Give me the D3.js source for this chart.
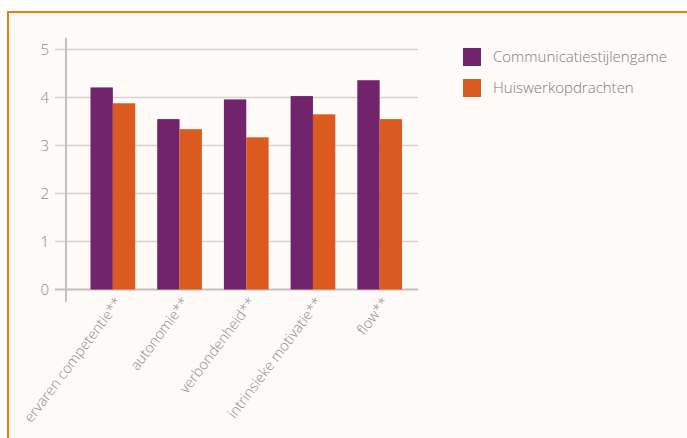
<!DOCTYPE html>
<html>
<head>
<meta charset="utf-8">
<script src="https://cdn.jsdelivr.net/npm/d3@7"></script>
<style>
  body { margin: 0; background: #ffffff; }
  svg { display: block; }
  text { font-family: "Open Sans", sans-serif; font-weight: 300; }
</style>
</head>
<body>
<div id="wrapper"></div>
<script>
// categories and series
const categories = ["ervaren competentie**", "autonomie**", "verbondenheid**", "intrinsieke motivatie**", "flow**"]
const seriesNames = ["Communicatiestijlengame", "Huiswerkopdrachten"]
const gameValues = [4.21, 3.55, 3.96, 4.03, 4.36]
const homeworkValues = [3.88, 3.34, 3.17, 3.65, 3.55]
const yTicks = [0, 1, 2, 3, 4, 5]
const colors = ["#71236b", "#db5a1f"]

const width = 687
const height = 438

const wrapper = d3.select("#wrapper")
  .append("svg")
    .attr("width", width)
    .attr("height", height)

// orange frame with pale background
wrapper.append("rect")
    .attr("x", 8)
    .attr("y", 12)
    .attr("width", width)
    .attr("height", height)
    .attr("fill", "#fdfaf7")
    .attr("stroke", "#e8820c")
    .attr("stroke-width", 2)

const yScale = d3.scaleLinear()
  .domain([0, 5])
  .range([289.5, 49.5])

const xScale = d3.scaleBand()
  .domain(categories)
  .range([79.5, 413])
  .paddingInner(0.33)
  .paddingOuter(0.165)

const subScale = d3.scaleBand()
  .domain(seriesNames)
  .range([0, xScale.bandwidth()])

// grid lines
wrapper.append("g")
  .selectAll("line")
  .data(yTicks)
  .join("line")
    .attr("x1", 55)
    .attr("x2", 418)
    .attr("y1", d => yScale(d))
    .attr("y2", d => yScale(d))
    .attr("stroke", d => d === 0 ? "#c4c0bd" : "#d6d4d2")
    .attr("stroke-width", d => d === 0 ? 2 : 1.5)

// y axis line
wrapper.append("line")
    .attr("x1", 66)
    .attr("x2", 66)
    .attr("y1", 38)
    .attr("y2", 302)
    .attr("stroke", "#c4c0bd")
    .attr("stroke-width", 2)

// y tick labels
wrapper.append("g")
  .selectAll("text")
  .data(yTicks)
  .join("text")
    .attr("x", 49)
    .attr("y", d => yScale(d))
    .attr("dy", "0.35em")
    .attr("text-anchor", "end")
    .attr("fill", "#8c8c8c")
    .style("font-size", "15px")
    .text(d => d)

// bars
const rows = categories.map((c, i) => ({ cat: c, vals: [gameValues[i], homeworkValues[i]] }))

const groups = wrapper.append("g")
  .selectAll("g")
  .data(rows)
  .join("g")
    .attr("transform", d => `translate(${xScale(d.cat)},0)`)

groups.selectAll("rect")
  .data(d => d.vals.map((v, j) => ({ name: seriesNames[j], v, j })))
  .join("rect")
    .attr("x", d => subScale(d.name))
    .attr("width", subScale.bandwidth())
    .attr("y", d => yScale(d.v))
    .attr("height", d => yScale(0) - yScale(d.v))
    .attr("fill", d => colors[d.j])

// rotated category labels
wrapper.append("g")
  .selectAll("text")
  .data(categories)
  .join("text")
    .attr("transform", d => `translate(${xScale(d) + xScale.bandwidth() / 2 + 6},${299}) rotate(-53)`)
    .attr("text-anchor", "end")
    .attr("dy", "0.35em")
    .attr("fill", "#8c8c8c")
    .style("font-size", "14.5px")
    .text(d => d)

// legend
const legend = wrapper.append("g")
  .selectAll("g")
  .data(seriesNames)
  .join("g")
    .attr("transform", (d, i) => `translate(463,${48 + i * 31})`)

legend.append("rect")
    .attr("width", 18)
    .attr("height", 18)
    .attr("fill", (d, i) => colors[i])

legend.append("text")
    .attr("x", 30)
    .attr("y", 9)
    .attr("dy", "0.35em")
    .attr("fill", "#7d7d7d")
    .style("font-size", "15px")
    .text(d => d)
</script>
</body>
</html>
